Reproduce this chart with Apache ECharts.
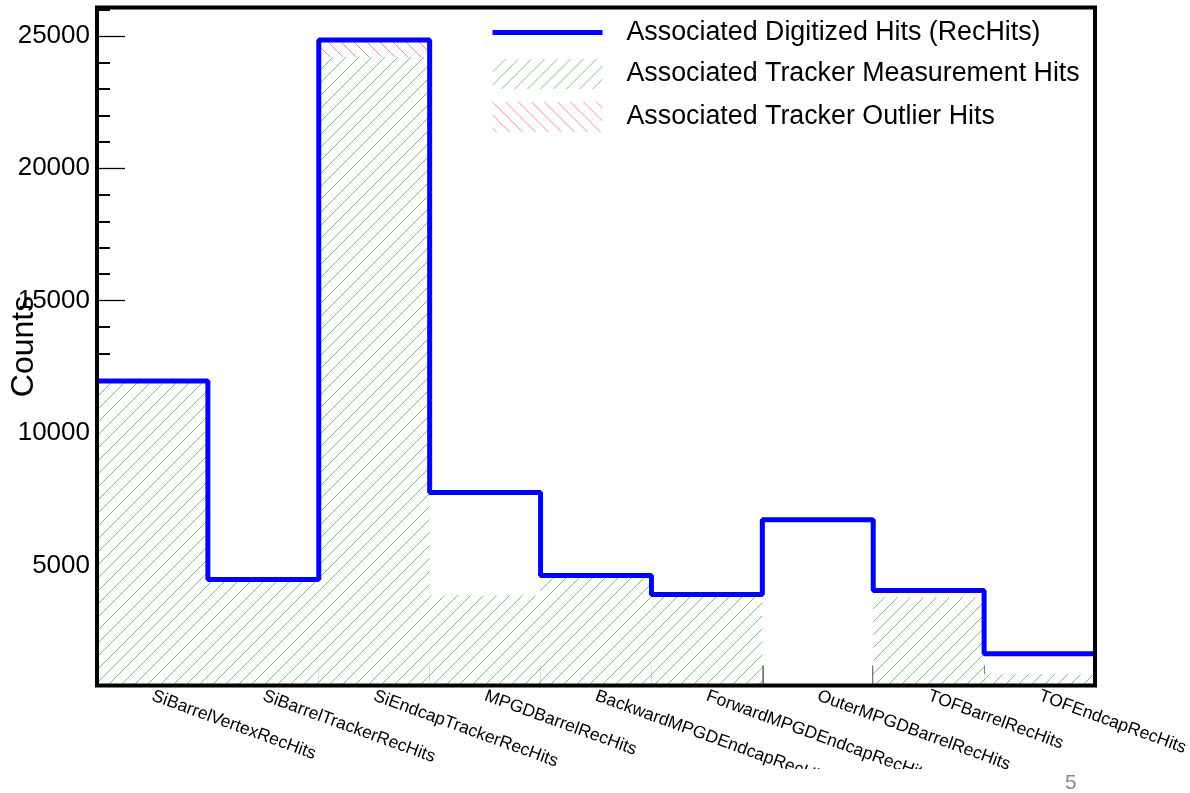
<!DOCTYPE html>
<html><head><meta charset="utf-8">
<script src="https://cdn.jsdelivr.net/npm/echarts@6/dist/echarts.min.js"></script>
<style>html,body{margin:0;padding:0;background:#fff}#c{width:1190px;height:793px}</style>
</head><body><div id="c"></div>
<script>
const categories = ['SiBarrelVertexRecHits','SiBarrelTrackerRecHits','SiEndcapTrackerRecHits','MPGDBarrelRecHits','BackwardMPGDEndcapRecHits','ForwardMPGDEndcapRecHits','OuterMPGDBarrelRecHits','TOFBarrelRecHits','TOFEndcapRecHits'];
const recHits = [11970, 4480, 24840, 7760, 4630, 3910, 6735, 4060, 1672];
const measurementHits = [11900, 4440, 24200, 3870, 4580, 3880, 0, 3760, 900];
const outlierHits = [40, 20, 600, 0, 30, 0, 0, 60, 0];
const yTickValues = [5000, 10000, 15000, 20000, 25000];
const yMinorTickValues = [1000, 2000, 3000, 4000, 6000, 7000, 8000, 9000, 11000, 12000, 13000, 14000, 16000, 17000, 18000, 19000, 21000, 22000, 23000, 24000, 26000];
const yMin = 475, yMax = 26070;
const pageNumber = '5';

function hatch(color, dir, size) {
  const c = document.createElement('canvas');
  c.width = size; c.height = size;
  const g = c.getContext('2d');
  g.fillStyle = '#ffffff'; g.fillRect(0, 0, size, size);
  g.fillStyle = color;
  for (let i = 0; i < size; i++) {
    const y = dir > 0 ? size - 1 - i : i;
    g.fillRect(i, y, 1, 1);
  }
  return c;
}
const greenPat = { image: hatch('#7cc67c', 1, 13), repeat: 'repeat' };
const redPat = { image: hatch('#ff8c8c', -1, 13), repeat: 'repeat' };

const stepData = recHits.map((v, i) => [i, v]).concat([[recHits.length, recHits[recHits.length - 1]]]);
const FONT = 'Liberation Sans, Arial, sans-serif';

const chart = echarts.init(document.getElementById('c'), null, { renderer: 'canvas' });
chart.setOption({
  animation: false,
  backgroundColor: '#ffffff',
  grid: { left: 97, right: 95, top: 7.5, bottom: 107.5, containLabel: false, outerBoundsMode: 'none', show: true, borderColor: '#000', borderWidth: 4, backgroundColor: 'transparent', z: 10 },
  legend: {
    orient: 'vertical', left: 485, top: 14, itemWidth: 110, itemHeight: 30, itemGap: 13,
    textStyle: { fontSize: 26.8, fontFamily: FONT, color: '#000', padding: [0, 0, 0, 19] },
    lineStyle: { width: 5 },
    data: [
      { name: 'Associated Digitized Hits (RecHits)', itemStyle: { opacity: 0 } },
      { name: 'Associated Tracker Measurement Hits', icon: 'rect' },
      { name: 'Associated Tracker Outlier Hits', icon: 'rect' }
    ]
  },
  xAxis: [
    {
      type: 'category', data: categories, boundaryGap: true, z: 1,
      axisLine: { show: false },
      axisTick: { show: true, inside: true, length: 20, lineStyle: { color: '#444', width: 1.5 } },
      axisLabel: { rotate: -20, interval: 0, fontSize: 17.5, fontFamily: FONT, color: '#000', margin: 10 },
      splitLine: { show: false }
    },
    { type: 'value', min: 0, max: categories.length, show: false }
  ],
  yAxis: [
    {
      type: 'value', min: yMin, max: yMax, z: 1,
      name: 'Counts', nameLocation: 'middle', nameRotate: 90, nameGap: 57, nameMoveOverlap: false,
      nameTextStyle: { fontSize: 32, fontFamily: FONT, color: '#000' },
      axisLine: { show: false },
      axisTick: { show: true, inside: true, length: 28, customValues: yTickValues, lineStyle: { color: '#000', width: 1.3 } },
      axisLabel: { customValues: yTickValues, formatter: v => String(v), fontSize: 26, fontFamily: FONT, color: '#000', margin: 7 },
      splitLine: { show: false }
    },
    {
      type: 'value', min: yMin, max: yMax, z: 1, position: 'left',
      axisLine: { show: false },
      axisTick: { show: true, inside: true, length: 13, customValues: yMinorTickValues, lineStyle: { color: '#000', width: 2 } },
      axisLabel: { show: false },
      splitLine: { show: false }
    }
  ],
  series: [
    {
      name: 'Associated Tracker Measurement Hits', type: 'bar', stack: 'hits', data: measurementHits,
      barCategoryGap: 0, barWidth: '100%', itemStyle: { color: greenPat }, z: 2
    },
    {
      name: 'Associated Tracker Outlier Hits', type: 'bar', stack: 'hits', data: outlierHits,
      barCategoryGap: 0, barWidth: '100%', itemStyle: { color: redPat }, z: 2
    },
    {
      name: 'Associated Digitized Hits (RecHits)', type: 'line', xAxisIndex: 1, yAxisIndex: 0,
      data: stepData, step: 'end', symbol: 'none', showSymbol: false,
      lineStyle: { color: '#0000ff', width: 5 }, itemStyle: { color: '#0000ff' }, z: 3
    }
  ],
  graphic: [
    { type: 'rect', left: 0, top: 769, shape: { width: 1190, height: 24 }, style: { fill: '#ffffff' }, z: 100 },
    { type: 'text', left: 1065, top: 773, style: { text: pageNumber, fontSize: 21, fontFamily: FONT, fill: '#8a8a8a' }, z: 101 }
  ]
});
</script>
</body></html>
